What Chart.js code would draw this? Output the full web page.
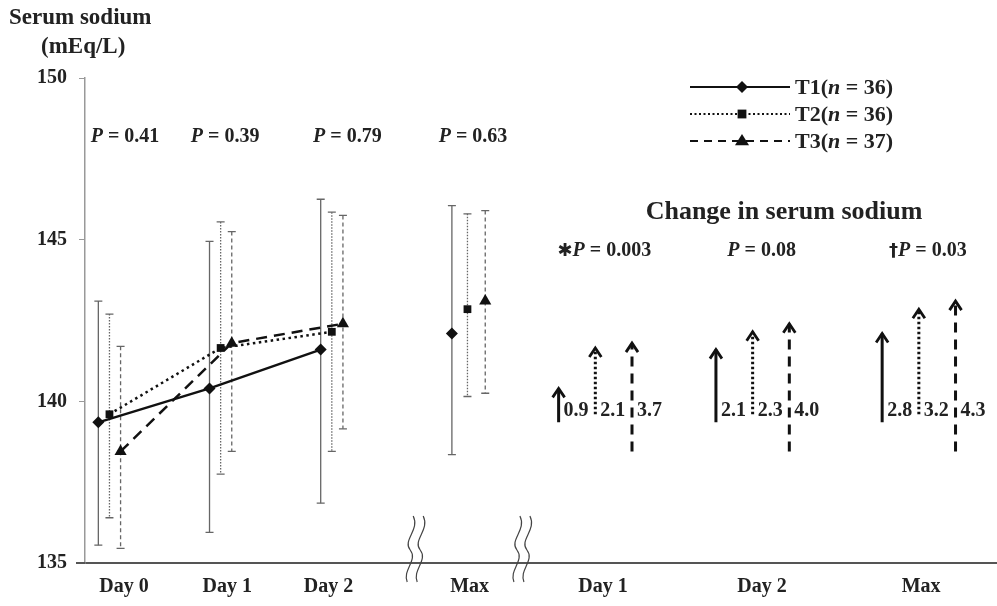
<!DOCTYPE html>
<html>
<head>
<meta charset="utf-8">
<script src="https://cdn.jsdelivr.net/npm/chart.js@4.4.1/dist/chart.umd.min.js"></script>
<style>
  html, body { margin: 0; padding: 0; background: #fff; }
  #wrap { width: 997px; height: 606px; position: relative; }
</style>
</head>
<body>
<div id="wrap"><canvas id="sodiumChart"></canvas></div>
<script>
// Data
const groupNames = ['T1', 'T2', 'T3'];
const groupSizes = [36, 36, 37];
const xTickLabels = ['Day 0', 'Day 1', 'Day 2', 'Max', 'Day 1', 'Day 2', 'Max'];
const yTicks = [135, 140, 145, 150];

// Means at Day 0, Day 1, Day 2, Max
const meanT1 = [139.35, 140.4, 141.6, 142.1];
const meanT2 = [139.6, 141.65, 142.15, 142.85];
const meanT3 = [138.45, 141.8, 142.4, 143.1];
const upperT1 = [143.1, 144.95, 146.25, 146.05];
const upperT2 = [142.7, 145.55, 145.85, 145.8];
const upperT3 = [141.7, 145.25, 145.75, 145.9];
const lowerT1 = [135.55, 135.95, 136.85, 138.35];
const lowerT2 = [136.4, 137.75, 138.45, 140.15];
const lowerT3 = [135.45, 138.45, 139.15, 140.25];

const pValues = ['0.41', '0.39', '0.79', '0.63'];

// Change in serum sodium (Day 1, Day 2, Max)
const changeT1 = [0.9, 2.1, 2.8];
const changeT2 = [2.1, 2.3, 3.2];
const changeT3 = [3.7, 4.0, 4.3];
const changePrefix = ['\u2731', '', '\u2020'];
const changePValues = ['0.003', '0.08', '0.03'];

// Layout (x axis units)
const groupPos = [0, 1, 2, 3.22];
const dayOffsets = [-0.1, 0, 0.1];
const maxOffsets = [-0.14, 0, 0.16];
const changePos = [4.37, 5.785, 7.28];
const changeOffsets = [-0.33, 0, 0.33];
const tickPos = [0.13, 1.06, 1.97, 3.24, 4.44, 5.87, 7.3];
const breakPos = [2.75, 3.71];
const pTextPos = [0.14, 1.04, 2.14, 3.27];

const lineColor = '#111';
const serif = '"Liberation Serif", "Times New Roman", serif';
const styles = [
    { dash: [], errDash: [], point: 'rectRot', radius: 6 },
    { dash: [2.5, 3.5], errDash: [1.5, 1.5], point: 'rect', radius: 5.5 },
    { dash: [11, 7], errDash: [4, 3], point: 'triangle', radius: 7 }
];
const means = [meanT1, meanT2, meanT3];
const uppers = [upperT1, upperT2, upperT3];
const lowers = [lowerT1, lowerT2, lowerT3];
const changes = [changeT1, changeT2, changeT3];

const datasets = [];

// Day 0 - Day 2 lines
means.forEach((m, g) => {
    datasets.push({
        data: [0, 1, 2].map(k => ({ x: groupPos[k] + dayOffsets[g], y: m[k] })),
        errHigh: uppers[g].slice(0, 3),
        errLow: lowers[g].slice(0, 3),
        errDash: styles[g].errDash,
        borderColor: lineColor,
        backgroundColor: lineColor,
        borderWidth: 2.5,
        borderDash: styles[g].dash,
        pointStyle: styles[g].point,
        pointRadius: styles[g].radius,
        pointBackgroundColor: lineColor,
        pointBorderColor: lineColor,
        pointBorderWidth: 0
    });
});

// Max points
means.forEach((m, g) => {
    datasets.push({
        data: [{ x: groupPos[3] + maxOffsets[g], y: m[3] }],
        errHigh: [uppers[g][3]],
        errLow: [lowers[g][3]],
        errDash: styles[g].errDash,
        showLine: false,
        pointStyle: styles[g].point,
        pointRadius: styles[g].radius,
        pointBackgroundColor: lineColor,
        pointBorderColor: lineColor,
        pointBorderWidth: 0
    });
});

// Change arrows: from Day 0 mean up to the later mean
means.forEach((m, g) => {
    const pts = [];
    [1, 2, 3].forEach((k, c) => {
        const x = changePos[c] + changeOffsets[g];
        pts.push({ x: x, y: m[0] });
        pts.push({ x: x, y: m[k] });
        pts.push({ x: x, y: null });
    });
    datasets.push({
        data: pts,
        arrow: true,
        labels: changes[g],
        borderColor: lineColor,
        borderWidth: 3,
        borderDash: g === 0 ? [] : (g === 1 ? [2.5, 2.5] : [10, 7]),
        pointRadius: 0,
        spanGaps: false
    });
});

function drawParts(ctx, parts, x, y, align) {
    let total = 0;
    parts.forEach(p => { ctx.font = p.f; p.w = ctx.measureText(p.t).width; total += p.w; });
    let cx = align === 'center' ? x - total / 2 : x;
    parts.forEach(p => {
        ctx.font = p.f;
        ctx.fillText(p.t, cx, y);
        cx += p.w;
    });
}

function pParts(prefix, value, size) {
    const parts = [];
    if (prefix) parts.push({ t: prefix, f: `bold ${size - 2}px "DejaVu Sans"` });
    parts.push({ t: 'P', f: `italic bold ${size}px ${serif}` });
    parts.push({ t: ' = ' + value, f: `bold ${size}px ${serif}` });
    return parts;
}

function drawMarker(ctx, type, x, y, r) {
    ctx.beginPath();
    if (type === 'rectRot') {
        ctx.moveTo(x, y - r); ctx.lineTo(x + r, y); ctx.lineTo(x, y + r); ctx.lineTo(x - r, y);
    } else if (type === 'rect') {
        ctx.rect(x - r * 0.8, y - r * 0.8, r * 1.6, r * 1.6);
    } else {
        ctx.moveTo(x, y - r); ctx.lineTo(x + r, y + r * 0.6); ctx.lineTo(x - r, y + r * 0.6);
    }
    ctx.closePath();
    ctx.fill();
}

const errorBarPlugin = {
    id: 'errorBars',
    beforeDatasetsDraw(chart) {
        const ctx = chart.ctx;
        const yScale = chart.scales.y;
        chart.data.datasets.forEach((ds, i) => {
            if (!ds.errHigh) return;
            const meta = chart.getDatasetMeta(i);
            ctx.save();
            ctx.strokeStyle = '#666';
            ctx.lineWidth = 1.3;
            meta.data.forEach((pt, j) => {
                const top = yScale.getPixelForValue(ds.errHigh[j]);
                const bottom = yScale.getPixelForValue(ds.errLow[j]);
                ctx.setLineDash(ds.errDash);
                ctx.beginPath();
                ctx.moveTo(pt.x, top);
                ctx.lineTo(pt.x, bottom);
                ctx.stroke();
                ctx.setLineDash([]);
                ctx.beginPath();
                ctx.moveTo(pt.x - 4, top); ctx.lineTo(pt.x + 4, top);
                ctx.moveTo(pt.x - 4, bottom); ctx.lineTo(pt.x + 4, bottom);
                ctx.stroke();
            });
            ctx.restore();
        });
    }
};

const annotationPlugin = {
    id: 'annotations',
    afterDatasetsDraw(chart) {
        const ctx = chart.ctx;
        const xScale = chart.scales.x;
        const yScale = chart.scales.y;
        const area = chart.chartArea;
        ctx.save();
        ctx.fillStyle = '#222';
        ctx.strokeStyle = lineColor;

        // arrow heads and change values
        chart.data.datasets.forEach((ds, i) => {
            if (!ds.arrow) return;
            const meta = chart.getDatasetMeta(i);
            for (let c = 0; c < 3; c++) {
                const tip = meta.data[c * 3 + 1];
                ctx.setLineDash([]);
                ctx.lineWidth = 2.8;
                ctx.beginPath();
                ctx.moveTo(tip.x - 6, tip.y + 9);
                ctx.lineTo(tip.x, tip.y);
                ctx.lineTo(tip.x + 6, tip.y + 9);
                ctx.stroke();
                ctx.textBaseline = 'middle';
                ctx.font = `bold 20px ${serif}`;
                ctx.fillText(ds.labels[c].toFixed(1), tip.x + 5, yScale.getPixelForValue(139.7));
            }
        });

        // P values over the raw values
        ctx.textBaseline = 'middle';
        pValues.forEach((v, k) => {
            drawParts(ctx, pParts('', v, 20), xScale.getPixelForValue(pTextPos[k]), 137, 'center');
        });
        changePValues.forEach((v, k) => {
            drawParts(ctx, pParts(changePrefix[k], v, 20), xScale.getPixelForValue(changePos[k]) + 9, 251, 'center');
        });

        ctx.font = `bold 26px ${serif}`;
        ctx.textAlign = 'center';
        ctx.fillText('Change in serum sodium', 784, 212);
        ctx.textAlign = 'left';

        // y axis title
        ctx.font = `bold 23px ${serif}`;
        ctx.fillText('Serum sodium', 9, 18);
        ctx.fillText('(mEq/L)', 41, 47);

        // legend
        const rows = [87, 114, 141];
        rows.forEach((ry, g) => {
            ctx.setLineDash(g === 0 ? [] : (g === 1 ? [2, 2.5] : [8, 6]));
            ctx.lineWidth = 2;
            ctx.beginPath();
            ctx.moveTo(690, ry);
            ctx.lineTo(790, ry);
            ctx.stroke();
            ctx.setLineDash([]);
            ctx.fillStyle = lineColor;
            drawMarker(ctx, styles[g].point, 742, ry, styles[g].radius);
            ctx.fillStyle = '#222';
            drawParts(ctx, [
                { t: groupNames[g] + '(', f: `bold 22px ${serif}` },
                { t: 'n', f: `italic bold 22px ${serif}` },
                { t: ' = ' + groupSizes[g] + ')', f: `bold 22px ${serif}` }
            ], 795, ry + 1, 'left');
        });

        // x axis line runs a little past both ends of the plot area
        ctx.strokeStyle = '#555';
        ctx.lineWidth = 2;
        ctx.beginPath();
        ctx.moveTo(76, area.bottom);
        ctx.lineTo(area.left, area.bottom);
        ctx.moveTo(area.right, area.bottom);
        ctx.lineTo(997, area.bottom);
        ctx.stroke();

        // axis breaks
        ctx.strokeStyle = '#444';
        ctx.lineWidth = 1.2;
        breakPos.forEach(b => {
            const bx = xScale.getPixelForValue(b);
            [-5, 5].forEach(dx => {
                const x0 = bx + dx;
                ctx.beginPath();
                ctx.moveTo(x0 + 3, 516);
                ctx.bezierCurveTo(x0 + 10, 530, x0 - 8, 540, x0, 550);
                ctx.bezierCurveTo(x0 + 8, 560, x0 - 8, 570, x0 - 3, 582);
                ctx.stroke();
            });
        });
        ctx.restore();
    }
};

new Chart(document.getElementById('sodiumChart'), {
    type: 'line',
    data: { datasets: datasets },
    options: {
        responsive: true,
        maintainAspectRatio: false,
        animation: false,
        layout: { padding: { top: 78, right: 0, left: 0, bottom: 0 } },
        plugins: {
            legend: { display: false },
            tooltip: { enabled: false }
        },
        scales: {
            x: {
                type: 'linear',
                min: -0.22,
                max: 7.92,
                afterBuildTicks: (scale) => { scale.ticks = tickPos.map(v => ({ value: v })); },
                afterFit: (scale) => { scale.height = 43; },
                grid: { display: true, drawOnChartArea: false, drawTicks: false },
                border: { color: '#555', width: 2 },
                ticks: {
                    autoSkip: false,
                    maxRotation: 0,
                    padding: 12,
                    color: '#222',
                    font: { family: serif, size: 20, weight: 'bold' },
                    callback: (value, index) => xTickLabels[index]
                }
            },
            y: {
                min: 135,
                max: 150,
                afterBuildTicks: (scale) => { scale.ticks = yTicks.map(v => ({ value: v })); },
                afterFit: (scale) => { scale.width = 85; },
                grid: { display: true, drawOnChartArea: false, tickLength: 6, color: '#999' },
                border: { color: '#999', width: 1.5 },
                ticks: {
                    padding: 12,
                    color: '#222',
                    font: { family: serif, size: 20, weight: 'bold' }
                }
            }
        }
    },
    plugins: [errorBarPlugin, annotationPlugin]
});
</script>
</body>
</html>
